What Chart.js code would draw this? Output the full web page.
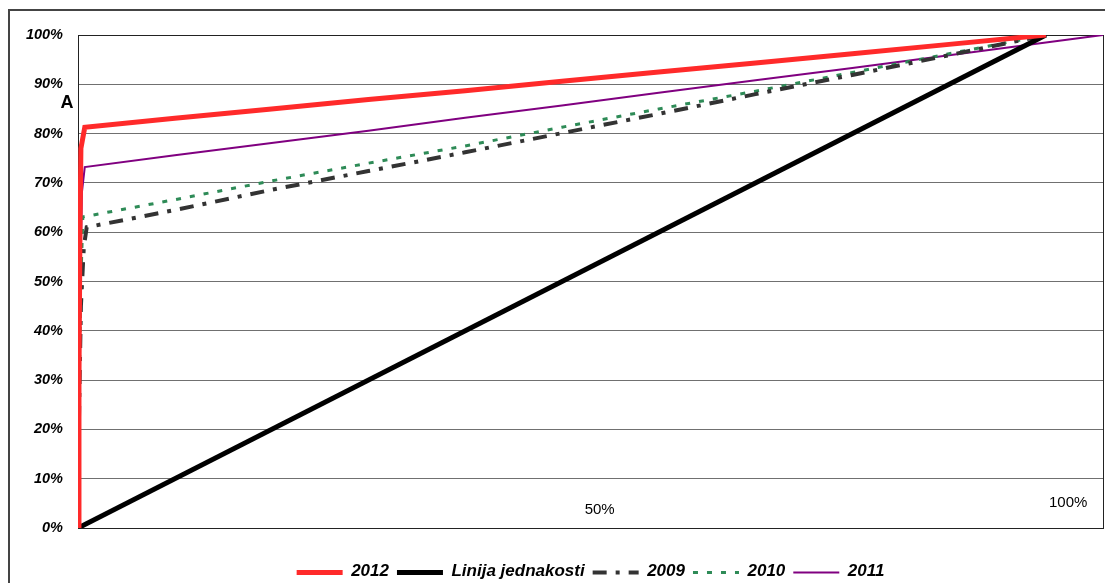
<!DOCTYPE html>
<html>
<head>
<meta charset="utf-8">
<script src="https://cdn.jsdelivr.net/npm/chart.js@4/dist/chart.umd.min.js"></script>
<style>
  html, body { margin: 0; padding: 0; background: #fff; }
  #wrap { position: relative; width: 1105px; height: 583px; overflow: hidden; }
  #okvir { position: absolute; left: 8px; top: 9px; width: 1200px; height: 700px; border: 2px solid #444; }
  #graf { position: absolute; left: 0; top: 0; }
</style>
</head>
<body>
<div id="wrap">
  <div id="okvir"></div>
  <canvas id="graf" width="1105" height="590"></canvas>
</div>
<script>
// udio populacije (x) i kumulativni udio (y), u %
const x2012 = [0, 0.1, 0.2, 0.3, 0.7, 10, 20, 30, 40, 50, 60, 70, 80, 90, 100];
const y2012 = [0, 30, 60, 77, 81.3, 83.1, 85.0, 86.9, 88.7, 90.6, 92.5, 94.3, 96.2, 98.1, 100];

const xJednakost = [0, 100];
const yJednakost = [0, 100];

const x2009 = [0, 0.1, 0.3, 0.6, 0.9, 10, 20, 30, 40, 50, 60, 70, 80, 90, 100];
const y2009 = [0, 22, 45, 57, 61.0, 64.5, 68.6, 72.4, 76.2, 80.1, 84.0, 88.0, 91.9, 95.9, 100];

const x2010 = [0, 0.1, 0.3, 0.5, 10, 20, 30, 40, 50, 60, 70, 80, 90, 100];
const y2010 = [0, 25, 50, 63.1, 66.6, 70.4, 74.0, 77.5, 81.3, 85.0, 88.6, 92.4, 96.2, 100];

const x2011 = [0, 0.2, 0.4, 0.7, 10, 20, 30, 40, 50, 60, 70, 80, 90, 100, 105.9];
const y2011 = [0, 45, 68, 73.2, 75.6, 78.1, 80.6, 83.2, 85.7, 88.3, 90.8, 93.3, 95.9, 98.5, 100];

const serije = ['2012', 'Linija jednakosti', '2009', '2010', '2011'];
const yTicks = [0, 10, 20, 30, 40, 50, 60, 70, 80, 90, 100];

function tocke(xs, ys) {
    return xs.map((x, i) => ({ x: x, y: ys[i] }));
}

// natpisi unutar grafa (kao u originalu)
const natpisi = [
    { tekst: '50%', x: 53.9, y: 3.6 },
    { tekst: '100%', x: 102.3, y: 5.2 }
];

const UZORAK = 46;

const dodaci = {
    id: 'dodaci',
    afterLayout(chart) {
        // legenda je u originalu centrirana ispod podrucja crtanja, ne cijelog platna
        const lg = chart.legend;
        const a = chart.chartArea;
        const pomak = (a.left + a.right) / 2 - (lg.left + lg.right) / 2;
        lg.left += pomak;
        lg.right += pomak;
    },
    beforeDatasetsDraw(chart) {
        const { ctx, chartArea: a } = chart;
        ctx.save();
        ctx.strokeStyle = '#222';
        ctx.lineWidth = 1;
        ctx.strokeRect(a.left + 0.5, a.top + 0.5, a.right - a.left, a.bottom - a.top);
        ctx.restore();
    },
    afterDraw(chart) {
        const { ctx, chartArea: a } = chart;
        const xs = chart.scales.x, ys = chart.scales.y;
        ctx.save();
        ctx.fillStyle = '#000';
        ctx.textAlign = 'center';
        ctx.textBaseline = 'middle';
        ctx.font = '15px Arial, "Liberation Sans", sans-serif';
        natpisi.forEach(n => {
            ctx.fillText(n.tekst, xs.getPixelForValue(n.x), ys.getPixelForValue(n.y));
        });
        ctx.font = 'bold 18px Arial, "Liberation Sans", sans-serif';
        ctx.fillText('A', a.left - 11, ys.getPixelForValue(86.3));

        // uzorci linija u legendi (s crtkanjem)
        const boxes = chart.legend.legendHitBoxes || [];
        boxes.forEach((b, i) => {
            const ds = chart.data.datasets[i];
            const y = Math.round(b.top + b.height / 2) + 0.5;
            ctx.beginPath();
            ctx.setLineDash(ds.borderDash || []);
            ctx.lineCap = 'butt';
            ctx.lineWidth = ds.borderWidth;
            ctx.strokeStyle = ds.borderColor;
            ctx.moveTo(b.left, y);
            ctx.lineTo(b.left + UZORAK, y);
            ctx.stroke();
        });
        ctx.restore();
    }
};

const ctx = document.getElementById('graf').getContext('2d');

new Chart(ctx, {
    type: 'line',
    data: {
        datasets: [{
            label: serije[0],
            data: tocke(x2012, y2012),
            borderColor: '#ff2a2a',
            borderWidth: 5
        }, {
            label: serije[1],
            data: tocke(xJednakost, yJednakost),
            borderColor: '#000',
            borderWidth: 5
        }, {
            label: serije[2],
            data: tocke(x2009, y2009),
            borderColor: '#333333',
            borderWidth: 4,
            borderDash: [14, 9, 4, 9]
        }, {
            label: serije[3],
            data: tocke(x2010, y2010),
            borderColor: '#2e8b57',
            borderWidth: 3,
            borderDash: [5, 9]
        }, {
            label: serije[4],
            data: tocke(x2011, y2011),
            borderColor: '#800080',
            borderWidth: 2
        }]
    },
    options: {
        responsive: false,
        devicePixelRatio: 1,
        animation: false,
        elements: {
            point: { radius: 0 },
            line: { tension: 0, fill: false, borderCapStyle: 'butt' }
        },
        layout: { padding: { top: 35, right: 2, left: 0, bottom: 0 } },
        plugins: {
            legend: {
                position: 'bottom',
                labels: {
                    usePointStyle: true,
                    pointStyle: 'line',
                    pointStyleWidth: UZORAK,
                    padding: 8,
                    color: '#000',
                    font: { family: 'Arial, "Liberation Sans", sans-serif', size: 17, style: 'italic', weight: 'bold' },
                    generateLabels(chart) {
                        const items = Chart.defaults.plugins.legend.labels.generateLabels(chart);
                        items.forEach(it => { it.strokeStyle = 'rgba(0,0,0,0)'; it.fillStyle = 'rgba(0,0,0,0)'; });
                        return items;
                    }
                }
            },
            tooltip: { enabled: false }
        },
        scales: {
            x: {
                type: 'linear',
                min: 0,
                max: 105.9,
                grid: { display: false },
                border: { display: false },
                ticks: { display: false },
                afterFit(scale) { scale.height = 27; }
            },
            y: {
                min: 0,
                max: 100,
                afterBuildTicks(scale) { scale.ticks = yTicks.map(v => ({ value: v })); },
                afterFit(scale) { scale.width = 78; },
                grid: { color: '#707070', lineWidth: 1, drawTicks: false },
                border: { color: '#222' },
                ticks: {
                    padding: 15,
                    color: '#000',
                    font: { family: 'Arial, "Liberation Sans", sans-serif', size: 14.5, style: 'italic', weight: 'bold' },
                    callback: v => v + '%'
                }
            }
        }
    },
    plugins: [dodaci]
});
</script>
</body>
</html>
